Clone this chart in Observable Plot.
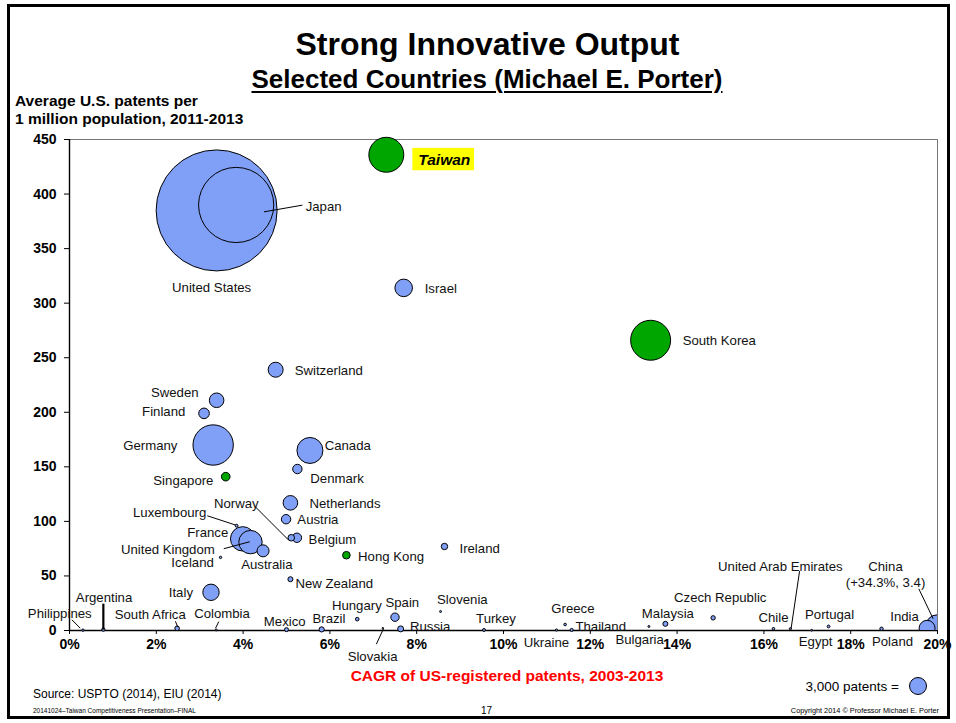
<!DOCTYPE html>
<html><head><meta charset="utf-8">
<script src="https://cdn.jsdelivr.net/npm/d3@7"></script>
<script src="https://cdn.jsdelivr.net/npm/@observablehq/plot@0.6"></script>
<style>
html,body{margin:0;padding:0;background:#fff;}
#page{position:relative;width:956px;height:723px;overflow:hidden;font-family:"Liberation Sans",Arial,Helvetica,sans-serif;color:#000;background:#fff;}
.abs{position:absolute;white-space:nowrap;}
#frame{position:absolute;left:7px;top:4px;width:943px;height:715px;border:3px solid #000;box-sizing:border-box;}
#title{left:0;width:975px;top:28px;text-align:center;font-size:32px;line-height:32px;font-weight:bold;}
#subtitle{left:0;width:974px;top:66px;text-align:center;font-size:26px;line-height:26px;font-weight:bold;}
#subtitle span{text-decoration:underline;text-decoration-thickness:2px;text-underline-offset:3px;}
#ytitle{left:15px;top:91.6px;font-size:15.5px;line-height:18px;font-weight:bold;}
#chart{position:absolute;left:0;top:125px;}
#chart svg{overflow:visible;}
#chart svg g[aria-label$="tick label"] text{font-weight:bold;}
#xtitle{left:0;width:1014px;top:666.6px;text-align:center;font-size:15.5px;line-height:18px;font-weight:bold;color:#ff0000;}
#legend{right:28px;top:676px;height:20px;display:flex;align-items:center;font-size:13.5px;}
#legend svg{margin-left:9px;}
#source{left:33px;top:686.8px;font-size:12px;line-height:14px;}
#foot1{left:33px;top:706px;font-size:6.5px;line-height:10px;}
#foot2{left:481px;top:705px;font-size:10px;line-height:12px;}
#foot3{right:17px;top:706px;font-size:7.3px;line-height:10px;}
</style>
</head><body>
<div id="page">
  <div id="frame"></div>
  <div id="title" class="abs">Strong Innovative Output</div>
  <div id="subtitle" class="abs"><span>Selected Countries (Michael E. Porter)</span></div>
  <div id="ytitle" class="abs">Average U.S. patents per<br>1 million population, 2011-2013</div>
  <div id="chart"></div>
  <div id="xtitle" class="abs">CAGR of US-registered patents, 2003-2013</div>
  <div id="legend" class="abs"><span>3,000 patents =</span></div>
  <div id="source" class="abs">Source: USPTO (2014), EIU (2014)</div>
  <div id="foot1" class="abs">20141024–Taiwan Competitiveness Presentation–FINAL</div>
  <div id="foot2" class="abs">17</div>
  <div id="foot3" class="abs">Copyright 2014 © Professor Michael E. Porter</div>
</div>
<script>
// ---------------- DATA ----------------
const countries = ["United States","Japan","Taiwan","Israel","South Korea","Switzerland","Sweden","Finland","Germany","Canada","Denmark","Singapore","Netherlands","Austria","Belgium","Norway","Luxembourg","France","United Kingdom","Australia","Iceland","Hong Kong","Ireland","New Zealand","Italy","Argentina","Philippines","South Africa","Colombia","Mexico","Brazil","Hungary","Spain","Russia","Slovakia","Slovenia","Turkey","Ukraine","Greece","Thailand","Bulgaria","Malaysia","Czech Republic","Chile","United Arab Emirates","Egypt","Portugal","Poland","India","China"];
// CAGR of US-registered patents 2003-2013 (%)
const cagr = [3.39,3.84,7.30,7.70,13.39,4.75,3.39,3.10,3.31,5.54,5.25,3.60,5.09,4.99,5.24,5.11,3.85,3.99,4.17,4.46,3.48,6.38,8.64,5.09,3.26,0.78,0.31,2.48,3.38,5.00,5.81,6.63,7.50,7.63,7.22,8.55,9.55,11.22,11.42,11.57,13.35,13.73,14.83,16.22,16.61,17.10,17.49,18.71,19.76,34.3];
// Average US patents per 1 million population, 2011-2013
const patentsPerMillion = [385,390,436,314,266,239,211,199,170,165,148,141,117,102,85,85,96,84,81,73,67,69,77,47,35,0.8,0.3,2.0,0.5,0.8,1.0,10.4,12.2,1.5,2.1,17.4,0.5,0.4,5.5,0.5,3.7,6.1,11.6,1.6,1.6,0.2,3.7,1.6,2.0,3.4];
// Average annual US patents (bubble size)
const patents = [152000,58700,12700,3200,16600,2340,2210,1170,16900,7020,920,770,2210,920,920,450,90,6180,5680,1500,60,600,425,260,2790,120,60,220,40,166,280,135,730,370,27,40,90,50,70,100,40,260,200,70,50,35,80,120,2660,5980];
const greenGroup = ["Taiwan","South Korea","Singapore","Hong Kong"];
const xTicks = [0,2,4,6,8,10,12,14,16,18,20];
const yTicks = [0,50,100,150,200,250,300,350,400,450];
const legendPatents = 3000;

// ---------------- LAYOUT ----------------
const W = 956, H = 540, mL = 69, mR = 19, mT = 14, mB = 35;
const xMax = 20, yMax = 450;
const kx = xMax / (W - mL - mR), ky = yMax / (H - mT - mB);
const BLUE = "#809ff7", GREEN = "#00a600";

// label placement: [anchor, dx px, dy px] relative to bubble centre
const labelLayout = {
 "United States":["middle",-5,76.5], "Japan":["start",69.5,0.5], "Israel":["start",21,0],
 "South Korea":["start",32,0], "Switzerland":["start",19,0], "Sweden":["end",-18,-8.5],
 "Finland":["end",-18.7,-2.5], "Germany":["end",-35.7,0], "Canada":["start",14.7,-5.5],
 "Denmark":["start",13,8.7], "Singapore":["end",-12.3,3.5], "Netherlands":["start",19,0],
 "Austria":["start",11.3,0], "Belgium":["start",11.7,1], "Norway":["middle",-55,-34.4],
 "Luxembourg":["end",-30.3,-14.3], "France":["end",-14.4,-7], "United Kingdom":["end",-35.7,7],
 "Iceland":["end",-6.7,5], "Australia":["middle",3.8,12.7], "Hong Kong":["start",11.7,0.7],
 "Ireland":["start",15,1], "New Zealand":["start",5,4], "Italy":["end",-18,-0.6],
 "Argentina":["middle",0.7,-32.3], "Philippines":["middle",-23.2,-17], "South Africa":["middle",-26.9,-14.7],
 "Colombia":["middle",5.8,-16.7], "Mexico":["middle",-1.8,-8.3], "Brazil":["middle",7.3,-11.7],
 "Hungary":["middle",-0.4,-14.4], "Spain":["middle",7.3,-15], "Russia":["start",9.3,-2.6],
 "Slovakia":["middle",-10.3,27.3], "Slovenia":["middle",21.8,-12.6], "Turkey":["middle",12,-11.7],
 "Ukraine":["middle",-10,11.7], "Greece":["middle",7.8,-16.3], "Thailand":["start",3.8,-4],
 "Bulgaria":["middle",-9.3,12.3], "Malaysia":["middle",2.5,-10.6], "Czech Republic":["middle",7.1,-20.6],
 "Chile":["middle",0,-12.3], "United Arab Emirates":["middle",-10,-63], "Egypt":["middle",4,10.7],
 "Portugal":["middle",1,-12.3], "Poland":["middle",11,11.7], "India":["middle",-22.5,-12.8],
 "China":["middle",-52,-52.6]
};
// leader lines: [x1, y1, x2, y2, strokeWidth] px relative to bubble centre
const leaderLayout = {
 "Japan":[27.8,6.9,66.2,0.2,1], "Norway":[-36,-31,-2.7,2.3,1], "Luxembourg":[-29.3,-10,-1,-0.7,1],
 "United Kingdom":[-26.7,6.6,-0.7,-0.4,1], "Argentina":[0,-26,0,0,2.2], "Philippines":[-11,-10.3,-2.7,-2,1],
 "South Africa":[-1.7,-7,0.6,-1.3,1], "Colombia":[2.6,-8.3,-0.7,-1.7,1], "Slovakia":[0.6,0.6,-6.5,16,1],
 "United Arab Emirates":[9.2,-57.6,0.7,0,1], "China":[-18.7,-38,-4.3,-8,1]
};
const highlightBox = [26.5,-6.4,88.2,16]; // Taiwan yellow box
const highlightText = [32,5.5];

// ---------------- BUILD ----------------
const data = countries.map((name,i)=>({name, cagr:cagr[i], ppm:patentsPerMillion[i], patents:patents[i], green:greenGroup.includes(name)}));
const shownX = d => Math.min(d.cagr, xMax);
const labels = data.filter(d=>labelLayout[d.name]).map(d=>{
  const [anchor,dx,dy] = labelLayout[d.name];
  return {anchor, lx: shownX(d)+dx*kx, ly: d.ppm - dy*ky,
    text: d.cagr > xMax ? `${d.name}\n(+${d.cagr}%, ${d.ppm})` : d.name};
});
const leaders = data.filter(d=>leaderLayout[d.name]).map(d=>{
  const [a,b,c,e,w] = leaderLayout[d.name];
  return {x1: shownX(d)+a*kx, y1: d.ppm-b*ky, x2: shownX(d)+c*kx, y2: d.ppm-e*ky, w};
});
const hl = data.filter(d=>d.name==="Taiwan");
const fillOf = d => d.green ? GREEN : BLUE;

const labelMarks = ["start","middle","end"].map(a =>
  Plot.text(labels.filter(l=>l.anchor===a), {x:"lx", y:"ly", text:"text", textAnchor:a, fontSize:13.2, lineHeight:1.2, fill:"#111"}));

const plot = Plot.plot({
  width: W, height: H, marginLeft: mL, marginRight: mR, marginTop: mT, marginBottom: mB,
  x: {domain:[0,xMax]}, y: {domain:[0,yMax]},
  r: {type:"sqrt", domain:[0,legendPatents], range:[0,8.5]},
  color: {type:"identity"},
  style: {fontFamily:'"Liberation Sans",Arial,Helvetica,sans-serif', fontSize:"13.2px", background:"transparent", color:"#000", overflow:"visible"},
  marks: [
    Plot.frame({stroke:"#777", strokeWidth:1}),
    Plot.axisY({ticks:yTicks, tickSize:5, tickPadding:8, fontSize:14, fontWeight:"bold", label:null}),
    Plot.axisX({ticks:xTicks, tickFormat:d=>`${d}%`, tickSize:4, tickPadding:5, fontSize:14, fontWeight:"bold", label:null}),
    Plot.ruleX([0], {stroke:"#000", strokeWidth:1.4}),
    Plot.ruleY([0], {stroke:"#000", strokeWidth:1.4}),
    Plot.rect(hl, {x1:d=>shownX(d)+highlightBox[0]*kx, x2:d=>shownX(d)+highlightBox[2]*kx,
                   y1:d=>d.ppm-highlightBox[1]*ky, y2:d=>d.ppm-highlightBox[3]*ky, fill:"#ffff00"}),
    Plot.dot(data.filter(d=>shownX(d) < 19.5), {x:shownX, y:"ppm", r:"patents", fill:fillOf, stroke:"#000", strokeWidth:1}),
    Plot.dot(data.filter(d=>shownX(d) >= 19.5), {x:shownX, y:"ppm", r:"patents", fill:fillOf, stroke:"#000", strokeWidth:1, clip:true}),
    Plot.link(leaders, {x1:"x1", y1:"y1", x2:"x2", y2:"y2", stroke:"#000", strokeWidth:"w"}),
    ...labelMarks,
    Plot.text(hl, {x:d=>shownX(d)+highlightText[0]*kx, y:d=>d.ppm-highlightText[1]*ky, text:"name", textAnchor:"start",
                   fontSize:15.5, fontWeight:"bold", fontStyle:"italic", fill:"#000"})
  ]
});
document.getElementById("chart").appendChild(plot);

// legend bubble from the r scale
let lr = 8.5;
try { lr = plot.scale("r").apply(legendPatents); } catch(e) {}
const ls = d3.create("svg").attr("width", 2*lr+3).attr("height", 2*lr+3);
ls.append("circle").attr("cx", lr+1.5).attr("cy", lr+1.5).attr("r", lr).attr("fill", BLUE).attr("stroke", "#000");
document.getElementById("legend").appendChild(ls.node());
</script>
</body></html>
